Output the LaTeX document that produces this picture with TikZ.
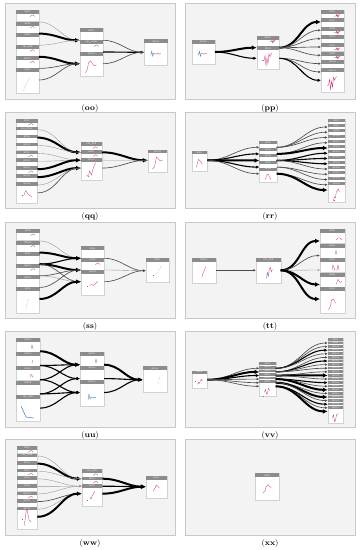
\documentclass[tikz,border=0pt]{standalone}
\usetikzlibrary{arrows.meta,calc}
\definecolor{panelfill}{HTML}{F3F3F3}
\definecolor{paneldraw}{HTML}{C8C8C8}
\definecolor{hdrgray}{HTML}{8C8C8C}
\definecolor{cardline}{HTML}{D2D2D2}
\definecolor{sparkpink}{HTML}{D0428A}
\definecolor{sparkblue}{HTML}{3F7FBF}
\tikzset{
 panel/.style={fill=panelfill, draw=paneldraw, line width=1bp},
 cardbody/.style={draw=cardline, fill=white, line width=0.3bp, inner sep=0pt, outer sep=0pt, anchor=north west},
 cardhdr/.style={fill=hdrgray, text=white, inner sep=0pt, outer sep=0pt, anchor=north west, font=\sffamily\fontsize{2.1}{2.3}\selectfont},
 ln/.style={-{Latex[length=1.6bp 1.6, width=1.5bp 1.6]}},
 c1/.style={ln, draw=black!40, line width=0.4bp},
 c2/.style={ln, draw=black!70, line width=0.65bp},
 c3/.style={ln, draw=black, line width=1.1bp},
 c4/.style={ln, draw=black, line width=2bp},
 spark/.style={draw=sparkpink, line width=0.35bp},
 sparkb/.style={draw=sparkblue, line width=0.35bp},
 plab/.style={font=\fontsize{8}{9}\selectfont},
}
\newcommand{\stk}[9]{%
  \foreach \lab [count=\i] in {#9} {%
    \pgfmathsetmacro{\cT}{#3+(\i-1)*(#4)}%
    \pgfmathsetmacro{\cH}{#6-\cT}%
    \node[cardbody, minimum width=#5bp, minimum height=\cH bp] (#1-\i) at (#2,\cT) {};%
    \node[cardhdr, minimum width=#5bp, minimum height=#8bp] (#1-\i-h) at (#2,\cT) {\lab};%
    \coordinate (#1-\i-in) at (#2,\cT+#7);%
    \coordinate (#1-\i-out) at (#2+#5,\cT+#7);%
  }%
}
\newcommand{\cn}[3]{\draw[#1] (#2) to[out=0,in=180] (#3);}
\newcommand{\hump}[1]{\draw[spark, shift={(#1.south east)}] (-9,2.6) -- (-7.5,1.6) -- (-6.5,0.9) -- (-5.5,1.3) -- (-4.5,2.4);}
\newcommand{\zig}[1]{\draw[spark, shift={(#1.south east)}] (-10,2.2) -- (-8,2) -- (-7.4,0.6) -- (-6.8,3) -- (-6.2,1) -- (-5.6,2.6) -- (-5,0.5) -- (-4,1);}
\begin{document}
\begin{tikzpicture}[x=1bp,y=-1bp]
\fill[white] (0,0) rectangle (360,550);
\useasboundingbox (0,0) rectangle (360,550);
% panels
\foreach \py in {4,112.5,222,331,439.5} {
  \draw[panel] (5,\py) rectangle (175,\py+96);
  \draw[panel] (185,\py) rectangle (355,\py+96);
}
\node[plab] (l-oo) at (90,108.5) {(\textbf{oo})};
\node[plab] (l-pp) at (270,108.5) {(\textbf{pp})};
\node[plab] (l-qq) at (90,217) {(\textbf{qq})};
\node[plab] (l-rr) at (270,217) {(\textbf{rr})};
\node[plab] (l-ss) at (90,326.5) {(\textbf{ss})};
\node[plab] (l-tt) at (270,326.5) {(\textbf{tt})};
\node[plab] (l-uu) at (90,435.5) {(\textbf{uu})};
\node[plab] (l-vv) at (270,435.5) {(\textbf{vv})};
\node[plab] (l-ww) at (90,544) {(\textbf{ww})};
\node[plab] (l-xx) at (270,544) {(\textbf{xx})};

% ---------------- oo
\stk{ooA}{16}{10}{11.6}{23}{93}{12}{4}{NPD5,NPD6,NPD9,SES\_NPR,NPD11,NPD8}
\stk{ooB}{80}{28.3}{11.7}{23}{76}{12}{4}{NPD7,SES\_COND,NPD12}
\stk{ooC}{144}{39.3}{0}{23.5}{65}{13}{4}{NPD10}
\cn{c1}{ooA-1-out}{ooB-1-in}
\cn{c4}{ooA-2-out}{ooB-1-in}
\cn{c1}{ooA-3-out}{ooB-1-in}
\cn{c4}{ooA-4-out}{ooB-3-in}
\cn{c2}{ooA-5-out}{ooB-3-in}
\cn{c2}{ooA-6-out}{ooB-3-in}
\cn{c2}{ooB-1-out}{ooC-1-in}
\cn{c3}{ooB-2-out}{ooC-1-in}
\cn{c2}{ooB-3-out}{ooC-1-in}
\hump{ooA-1-h}\hump{ooA-2-h}\hump{ooA-4-h}\hump{ooA-5-h}\hump{ooB-2-h}
\draw[spark, densely dotted, shift={(ooA-6.center)}] (-4,10) -- (-2,5) -- (0,1) -- (2,-3);
\draw[spark, shift={(ooB-3.center)}] (-6,9) -- (-4,5) -- (-3,-1) -- (-1,-3) -- (1,0) -- (3,2) -- (5,1);
\draw[sparkb, shift={(ooC-1.center)}] (-5,3) -- (-4,-1) -- (-3,4) -- (-2,1);
\draw[spark, shift={(ooC-1.center)}] (-2,1) -- (0,2) -- (2,1) -- (3,2) -- (5,1.5);

% ---------------- pp
\stk{ppA}{191.7}{40}{0}{23.3}{64.3}{12}{4}{NPD20}
\stk{ppB}{256.7}{35.7}{10.6}{22.6}{69}{12}{4}{NPD21,NPD2}
\stk{ppC}{321}{10}{8.33}{23}{92.3}{12}{4}{NPD4,NPD5,NPD6,NPD7,NPD8,NPD9,NPD10,NPD11}
\cn{c4}{ppA-1-out}{ppB-1-in}
\cn{c3}{ppA-1-out}{ppB-2-in}
\cn{c4}{ppB-1-out}{ppC-1-in}
\cn{c2}{ppB-1-out}{ppC-2-in}
\cn{c2}{ppB-1-out}{ppC-3-in}
\cn{c2}{ppB-1-out}{ppC-4-in}
\cn{c2}{ppB-1-out}{ppC-5-in}
\cn{c2}{ppB-2-out}{ppC-6-in}
\cn{c2}{ppB-2-out}{ppC-7-in}
\cn{c3}{ppB-2-out}{ppC-8-in}
\zig{ppC-1-h}\zig{ppC-3-h}\zig{ppC-5-h}\zig{ppC-6-h}\zig{ppB-1-h}
\draw[sparkb, shift={(ppA-1.center)}] (-5,3) -- (-4,-1) -- (-3,4) -- (-2,1);
\draw[spark, shift={(ppA-1.center)}] (-2,1) -- (0,2) -- (2,1) -- (4,2);
\draw[spark, shift={(ppB-2.center)}] (-6,3) -- (-4,3) -- (-3,-2) -- (-2,8) -- (-1,0) -- (0,6) -- (1,-4) -- (2,-1) -- (4,-5);
\draw[spark, shift={(ppC-8.center)}] (-6,5) -- (-4,5) -- (-3,-1) -- (-2,9) -- (-1,1) -- (0,7) -- (1,-3) -- (2,0) -- (4,-4);

% ---------------- qq
\stk{qqA}{16}{119}{7.9}{21.5}{203}{10.7}{3.6}{NPD7,SES\_PRES,NPD9,NPD12,NPD3,NPD13,NPD14,NPD15,NPD16}
\stk{qqB}{81}{142.3}{7.9}{21}{179.7}{10}{3.6}{SES\_NPR,NPD1,NPD17}
\stk{qqC}{147.7}{149.7}{0}{19.5}{172.3}{10.6}{3.6}{NPD11}
\cn{c1}{qqA-1-out}{qqB-1-in}
\cn{c4}{qqA-2-out}{qqB-1-in}
\cn{c1}{qqA-3-out}{qqB-1-in}
\cn{c1}{qqA-4-out}{qqB-2-in}
\cn{c1}{qqA-5-out}{qqB-2-in}
\cn{c4}{qqA-6-out}{qqB-2-in}
\cn{c4}{qqA-7-out}{qqB-3-in}
\cn{c1}{qqA-8-out}{qqB-3-in}
\cn{c2}{qqA-9-out}{qqB-3-in}
\cn{c4}{qqB-1-out}{qqC-1-in}
\cn{c1}{qqB-2-out}{qqC-1-in}
\cn{c2}{qqB-3-out}{qqC-1-in}
\hump{qqA-1-h}\hump{qqA-5-h}\hump{qqA-7-h}\hump{qqB-1-h}\hump{qqB-2-h}
\draw[sparkb] ($(qqA-9.center)+(-5,3)$) -- ++(0.6,0);
\draw[spark, shift={(qqA-9.center)}] (-3,3) -- (-1,-2) -- (1,1) -- (3,3) -- (5,4);
\draw[spark, shift={(qqB-3.center)}] (-5,6) -- (-3,8) -- (-2,2) -- (0,6) -- (2,-2) -- (4,-6);
\draw[spark, shift={(qqC-1.center)}] (-5,8) -- (-3,6) -- (-1,-4) -- (1,-2) -- (3,0) -- (5,-1);

% ---------------- rr
\stk{rrA}{191.7}{151.3}{0}{15.6}{171.3}{9}{3}{NPD1}
\stk{rrB}{259.3}{141.3}{6.6}{17.4}{182}{6}{3}{NPD2,NPD3,NPD4,NPD5,NPD6}
\stk{rrC}{327.7}{119}{5.25}{17.3}{202}{8}{3}{NPD7,NPD8,NPD9,NPD10,NPD11,NPD12,NPD13,NPD14,NPD15,NPD16,NPD17,NPD18,NPD19}
\cn{c2}{rrA-1-out}{rrB-1-in}
\cn{c3}{rrA-1-out}{rrB-2-in}
\cn{c4}{rrA-1-out}{rrB-3-in}
\cn{c3}{rrA-1-out}{rrB-4-in}
\cn{c2}{rrA-1-out}{rrB-5-in}
\cn{c2}{rrB-1-out}{rrC-1-in}
\cn{c2}{rrB-1-out}{rrC-2-in}
\cn{c2}{rrB-1-out}{rrC-3-in}
\cn{c2}{rrB-2-out}{rrC-4-in}
\cn{c4}{rrB-2-out}{rrC-5-in}
\cn{c3}{rrB-3-out}{rrC-6-in}
\cn{c3}{rrB-3-out}{rrC-7-in}
\cn{c3}{rrB-3-out}{rrC-8-in}
\cn{c2}{rrB-3-out}{rrC-9-in}
\cn{c2}{rrB-4-out}{rrC-10-in}
\cn{c2}{rrB-4-out}{rrC-11-in}
\cn{c2}{rrB-5-out}{rrC-12-in}
\cn{c4}{rrB-5-out}{rrC-13-in}
\draw[spark, shift={(rrA-1.center)}] (-3,6) -- (-2,1) -- (-1,-2) -- (1,0) -- (3,3);
\draw[spark, shift={(rrB-5.center)}] (-3,5) -- (-1,0) -- (0,-1) -- (2,3) -- (3,5);
\draw[spark, shift={(rrC-13.center)}] (-3,9) -- (-2,5) -- (-1,6) -- (0,0) -- (2,-3) -- (3,0);
\draw[spark, line width=1bp] ($(rrC-13.center)+(-2.6,8.5)$) -- ++(0.8,0);

% ---------------- ss
\stk{ssA}{16}{229}{11.6}{23.5}{313}{12}{4}{NPD9,NPD10,NPD7,NPD11,NPD12,NPD8}
\stk{ssB}{81}{246.3}{11.7}{23.3}{295.3}{12}{4}{NPD5,NPD6,NPD13}
\stk{ssC}{145.7}{258}{0}{23.6}{282.3}{12.7}{4}{NPD1}
\cn{c1}{ssA-1-out}{ssB-1-in}
\cn{c4}{ssA-2-out}{ssB-1-in}
\cn{c3}{ssA-3-out}{ssB-1-in}
\cn{c4}{ssA-3-out}{ssB-2-in}
\cn{c2}{ssA-3-out}{ssB-3-in}
\cn{c2}{ssA-4-out}{ssB-2-in}
\cn{c1}{ssA-4-out}{ssB-3-in}
\cn{c2}{ssA-5-out}{ssB-2-in}
\cn{c4}{ssA-6-out}{ssB-3-in}
\cn{c2}{ssB-1-out}{ssC-1-in}
\cn{c1}{ssB-2-out}{ssC-1-in}
\cn{c2}{ssB-3-out}{ssC-1-in}
\hump{ssA-1-h}\hump{ssA-2-h}\hump{ssA-4-h}\hump{ssB-2-h}
\draw[spark, densely dotted, shift={(ssA-6.center)}] (-2,10) -- (-1,5) -- (0,1) -- (1,-3);
\draw[sparkb, shift={(ssB-3.center)}] (-6,4) -- (-5,4);
\draw[spark, shift={(ssB-3.center)}] (-3,3) -- (-1,2) -- (1,3) -- (3,1) -- (5,-1);
\draw[sparkb, shift={(ssC-1.center)}] (-5,5) -- (-4,5);
\draw[spark, densely dotted, shift={(ssC-1.center)}] (-2,4) -- (0,2) -- (2,-1) -- (4,-4);

% ---------------- tt
\stk{ttA}{191.7}{258}{0}{24.3}{283}{12.3}{4}{NPD12}
\stk{ttB}{256}{258}{0}{24.7}{283}{12.3}{4}{SES\_NPR}
\stk{ttC}{320}{229}{14.5}{25}{313}{12}{4}{NPD3,NPD4,NPD5,NPD6,NPD7}
\cn{c2}{ttA-1-out}{ttB-1-in}
\cn{c4}{ttB-1-out}{ttC-1-in}
\cn{c2}{ttB-1-out}{ttC-2-in}
\cn{c1}{ttB-1-out}{ttC-3-in}
\cn{c4}{ttB-1-out}{ttC-4-in}
\cn{c4}{ttB-1-out}{ttC-5-in}
\draw[spark, shift={(ttA-1.center)}] (-2,7) -- (-1,3) -- (0,1) -- (2,-4);
\draw[sparkb, shift={(ttB-1.center)}] (-2,8) -- (-1,2) -- (0,6);
\draw[spark, shift={(ttB-1.center)}] (0,6) -- (1,-2) -- (2,-3) -- (3,1) -- (4,-1);
\draw[spark, shift={(ttC-1-h.south east)}] (-9,7) -- (-7,5) -- (-5,5) -- (-3,7);
\draw[spark, shift={(ttC-2-h.south east)}] (-10,7) -- (-9,3) -- (-8,7);
\draw[spark, shift={(ttC-3-h.south east)}] (-13,8) -- (-12,3) -- (-10,8) -- (-8,8) -- (-7,3) -- (-6,8);
\draw[spark, shift={(ttC-4-h.south east)}] (-9,8) -- (-7,3) -- (-5,6) -- (-3,5);
\draw[spark, shift={(ttC-5.center)}] (-4,10) -- (-2,6) -- (-1,0) -- (1,-1) -- (3,3);

% ---------------- uu
\stk{uuA}{16}{338}{14.2}{24}{421.3}{13.3}{4}{NPD13,NPD14,NPD15,NPD16,SES\_PRES}
\stk{uuB}{80}{352}{13.9}{24}{406.3}{12.7}{4}{NPD17,NPD18,NPD19}
\stk{uuC}{142.7}{366.3}{0}{24}{392}{13.4}{4}{NPD20}
\cn{c4}{uuA-1-out}{uuB-1-in}
\cn{c3}{uuA-2-out}{uuB-1-in}
\cn{c3}{uuA-2-out}{uuB-2-in}
\cn{c3}{uuA-3-out}{uuB-1-in}
\cn{c3}{uuA-3-out}{uuB-3-in}
\cn{c3}{uuA-4-out}{uuB-2-in}
\cn{c3}{uuA-4-out}{uuB-3-in}
\cn{c3}{uuA-5-out}{uuB-3-in}
\cn{c4}{uuB-1-out}{uuC-1-in}
\cn{c3}{uuB-2-out}{uuC-1-in}
\cn{c3}{uuB-3-out}{uuC-1-in}
\draw[spark, shift={(uuA-1-h.south east)}] (-9,7) -- (-8,3) -- (-7,7);
\draw[spark, shift={(uuA-2-h.south east)}] (-8,7) -- (-7.5,4);
\draw[spark, shift={(uuA-3-h.south east)}] (-10,7) -- (-9,4) -- (-8,5) -- (-7,7);
\draw[spark, shift={(uuB-1-h.south east)}] (-9,7) -- (-8,3) -- (-7,7);
\draw[sparkb, line width=0.5bp, shift={(uuA-5.center)}] (-7,-2) -- (-2,9) -- (6,10);
\draw[sparkb, shift={(uuB-3.center)}] (-4,7) -- (-3,1) -- (-2,6) -- (-1,4) -- (1,5) -- (3,4) -- (4,5);
\draw[spark, densely dotted, shift={(uuC-1.center)}] (3,6) -- (4,1) -- (5,-3);

% ---------------- vv
\stk{vvA}{191.7}{370.7}{0}{15.6}{388}{9}{3}{NPD1}
\stk{vvB}{259.3}{362.3}{3.6}{16.4}{396.3}{6}{2.6}{NPD2,NPD3,NPD4,NPD5,NPD6,NPD7}
\stk{vvC}{327.7}{338}{3.6}{15.6}{423}{5}{2.6}{NPD8,NPD9,NPD10,NPD11,NPD12,NPD13,NPD14,NPD15,NPD16,NPD17,NPD18,NPD19,NPD20,NPD21,NPD22,NPD23,NPD24,NPD25,NPD26,NPD27}
\cn{c2}{vvA-1-out}{vvB-1-in}
\cn{c4}{vvA-1-out}{vvB-2-in}
\cn{c3}{vvA-1-out}{vvB-3-in}
\cn{c2}{vvA-1-out}{vvB-4-in}
\cn{c2}{vvA-1-out}{vvB-5-in}
\cn{c2}{vvA-1-out}{vvB-6-in}
\cn{c2}{vvB-1-out}{vvC-1-in}
\cn{c2}{vvB-1-out}{vvC-2-in}
\cn{c3}{vvB-1-out}{vvC-3-in}
\cn{c2}{vvB-1-out}{vvC-4-in}
\cn{c2}{vvB-2-out}{vvC-5-in}
\cn{c3}{vvB-2-out}{vvC-6-in}
\cn{c2}{vvB-2-out}{vvC-7-in}
\cn{c2}{vvB-2-out}{vvC-8-in}
\cn{c2}{vvB-3-out}{vvC-9-in}
\cn{c4}{vvB-3-out}{vvC-10-in}
\cn{c2}{vvB-3-out}{vvC-11-in}
\cn{c3}{vvB-4-out}{vvC-12-in}
\cn{c2}{vvB-4-out}{vvC-13-in}
\cn{c4}{vvB-4-out}{vvC-14-in}
\cn{c2}{vvB-5-out}{vvC-15-in}
\cn{c4}{vvB-5-out}{vvC-16-in}
\cn{c2}{vvB-5-out}{vvC-17-in}
\cn{c3}{vvB-6-out}{vvC-18-in}
\cn{c2}{vvB-6-out}{vvC-19-in}
\cn{c4}{vvB-6-out}{vvC-20-in}
\draw[sparkb, shift={(vvA-1.center)}] (-5,2) -- (-4,2);
\draw[spark, shift={(vvA-1.center)}] (-2,5) -- (-1,3) -- (0,4) -- (1,1) -- (2,0) -- (3,2);
\draw[spark, shift={(vvB-6.center)}] (-3,4) -- (-2,1) -- (-1,6) -- (0,5) -- (1,0) -- (2,2);
\draw[sparkb] ($(vvB-6.center)+(-5,8)$) -- ++(0.6,0);
\draw[spark, shift={(vvC-20.center)}] (-3,3) -- (-2,0) -- (-1,7) -- (0,6) -- (1,0) -- (3,-1);

% ---------------- ww
\stk{wwA}{16.7}{446}{7.6}{20.6}{528.7}{10}{3.6}{NPD5,SES\_PRES,NPD6,NPD7,NPD8,NPD9,NPD10,NPD11,NPD12}
\stk{wwB}{81.7}{469.3}{7.5}{20.6}{506}{9.4}{3.6}{SES\_NPR,NPD1,NPD2}
\stk{wwC}{145.7}{476}{0}{21}{497.7}{10.7}{3.6}{NPD4}
\cn{c1}{wwA-1-out}{wwB-1-in}
\cn{c4}{wwA-2-out}{wwB-1-in}
\cn{c1}{wwA-3-out}{wwB-1-in}
\cn{c1}{wwA-4-out}{wwB-2-in}
\cn{c1}{wwA-5-out}{wwB-2-in}
\cn{c1}{wwA-6-out}{wwB-2-in}
\cn{c2}{wwA-7-out}{wwB-3-in}
\cn{c1}{wwA-8-out}{wwB-3-in}
\cn{c4}{wwA-9-out}{wwB-3-in}
\cn{c4}{wwB-1-out}{wwC-1-in}
\cn{c3}{wwB-2-out}{wwC-1-in}
\cn{c4}{wwB-3-out}{wwC-1-in}
\hump{wwA-1-h}\hump{wwA-4-h}\hump{wwA-7-h}\hump{wwB-1-h}\hump{wwB-2-h}
\draw[sparkb] ($(wwA-9.center)+(-5,1)$) -- ++(0.6,0);
\draw[spark, shift={(wwA-9.center)}] (-3,8) -- (-2,3) -- (-1,-6) -- (0,-9) -- (1,-3) -- (2,2) -- (4,4);
\draw[sparkb] ($(wwB-3.center)+(-5,5)$) -- ++(0.6,0);
\draw[spark, shift={(wwB-3.center)}] (-2,2) -- (-1,4) -- (0,1) -- (1,-1) -- (3,-4);
\draw[spark, shift={(wwC-1.center)}] (-3,4) -- (-1,1) -- (0,-2) -- (1,-1) -- (3,1);

% ---------------- xx
\stk{xxA}{255}{473.3}{0}{24.3}{500.3}{12}{4}{NPD4}
\draw[spark, shift={(xxA-1.center)}] (-4,6) -- (-2,4) -- (-1,0) -- (1,-2) -- (3,0) -- (4,1);
\end{tikzpicture}
\end{document}
